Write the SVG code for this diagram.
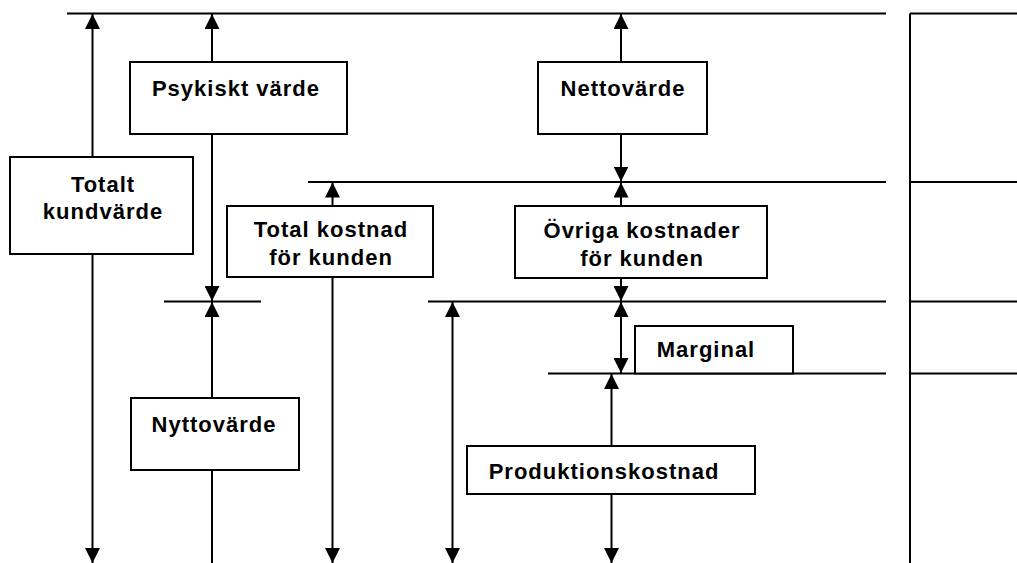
<svg xmlns="http://www.w3.org/2000/svg" width="1017" height="563" viewBox="0 0 1017 563">
<style>
.ln{stroke:#000;stroke-width:2;fill:none}
.bx{fill:#fff;stroke:#000;stroke-width:2}
.t{font-family:"Liberation Sans",Arial,sans-serif;font-size:22px;font-weight:bold;letter-spacing:1px;fill:#000;text-anchor:middle}
</style>
<defs>
<marker id="ah" markerUnits="userSpaceOnUse" markerWidth="15" markerHeight="15" viewBox="0 0 15 15" refX="15" refY="7.5" orient="auto-start-reverse">
<path d="M0,0 L15,7.5 L0,15 Z" fill="#000"/>
</marker>
</defs>
<rect width="1017" height="563" fill="#fff"/>
<g id="levels">
<line class="ln" x1="67" y1="13.5" x2="886" y2="13.5"/>
<line class="ln" x1="308" y1="182" x2="886" y2="182"/>
<line class="ln" x1="164" y1="301.5" x2="261" y2="301.5"/>
<line class="ln" x1="428" y1="301.5" x2="886" y2="301.5"/>
<line class="ln" x1="548" y1="373.5" x2="886" y2="373.5"/>
</g>
<g id="right-panel">
<line class="ln" x1="910" y1="13.5" x2="910" y2="563"/>
<line class="ln" x1="910" y1="13.5" x2="1017" y2="13.5"/>
<line class="ln" x1="910" y1="182" x2="1017" y2="182"/>
<line class="ln" x1="910" y1="301.5" x2="1017" y2="301.5"/>
<line class="ln" x1="910" y1="373.5" x2="1017" y2="373.5"/>
</g>
<g id="connectors">
<line class="ln" x1="92.5" y1="14" x2="92.5" y2="563" marker-start="url(#ah)" marker-end="url(#ah)"/>
<line class="ln" x1="212" y1="14" x2="212" y2="62" marker-start="url(#ah)"/>
<line class="ln" x1="212" y1="134" x2="212" y2="301" marker-end="url(#ah)"/>
<line class="ln" x1="212" y1="302" x2="212" y2="398" marker-start="url(#ah)"/>
<line class="ln" x1="212" y1="470" x2="212" y2="563"/>
<line class="ln" x1="332.5" y1="182.5" x2="332.5" y2="206" marker-start="url(#ah)"/>
<line class="ln" x1="332.5" y1="277" x2="332.5" y2="563" marker-end="url(#ah)"/>
<line class="ln" x1="452.5" y1="302" x2="452.5" y2="563" marker-start="url(#ah)" marker-end="url(#ah)"/>
<line class="ln" x1="621" y1="14" x2="621" y2="62" marker-start="url(#ah)"/>
<line class="ln" x1="621" y1="134" x2="621" y2="181.5" marker-end="url(#ah)"/>
<line class="ln" x1="621" y1="182.5" x2="621" y2="206" marker-start="url(#ah)"/>
<line class="ln" x1="621" y1="278" x2="621" y2="301" marker-end="url(#ah)"/>
<line class="ln" x1="621" y1="302" x2="621" y2="373" marker-start="url(#ah)" marker-end="url(#ah)"/>
<line class="ln" x1="611.5" y1="374" x2="611.5" y2="446" marker-start="url(#ah)"/>
<line class="ln" x1="611.5" y1="494" x2="611.5" y2="563" marker-end="url(#ah)"/>
</g>
<g id="psykiskt-varde">
<rect class="bx" x="130" y="62" width="217" height="72"/>
<text class="t" x="236" y="96">Psykiskt värde</text>
</g>
<g id="nettovarde">
<rect class="bx" x="538" y="62" width="169" height="72"/>
<text class="t" x="623" y="96">Nettovärde</text>
</g>
<g id="totalt-kundvarde">
<rect class="bx" x="10" y="157" width="183" height="97"/>
<text class="t" x="103" y="192">Totalt</text>
<text class="t" x="103" y="219">kundvärde</text>
</g>
<g id="total-kostnad">
<rect class="bx" x="227" y="206" width="206" height="71"/>
<text class="t" x="331" y="237">Total kostnad</text>
<text class="t" x="331" y="264.5">för kunden</text>
</g>
<g id="ovriga-kostnader">
<rect class="bx" x="515" y="206" width="252" height="72"/>
<text class="t" x="642" y="238">Övriga kostnader</text>
<text class="t" x="642" y="265.5">för kunden</text>
</g>
<g id="marginal">
<rect class="bx" x="635" y="326" width="158" height="47.5"/>
<text class="t" x="706" y="357">Marginal</text>
</g>
<g id="nyttovarde">
<rect class="bx" x="131" y="398" width="168" height="72"/>
<text class="t" x="214" y="432">Nyttovärde</text>
</g>
<g id="produktionskostnad">
<rect class="bx" x="467" y="446" width="288" height="48"/>
<text class="t" x="604" y="478.5">Produktionskostnad</text>
</g>
</svg>
